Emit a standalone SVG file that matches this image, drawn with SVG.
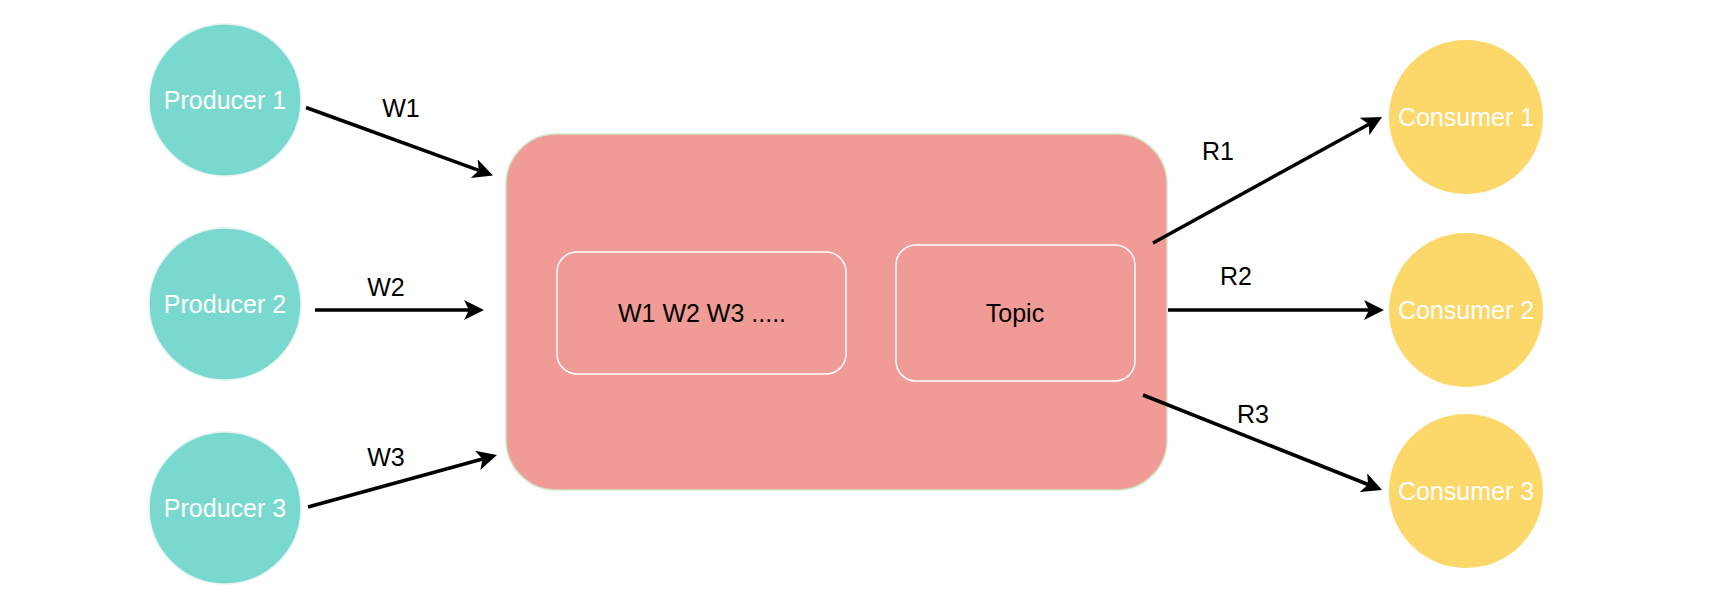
<svg xmlns="http://www.w3.org/2000/svg" width="1720" height="614" viewBox="0 0 1720 614">
<style>
.prod{fill:#7AD9CF;stroke:#E3F4F2;stroke-width:1.5}
.cons{fill:#FCD76A;stroke:none}
.lbl{font-family:"Liberation Sans",Arial,sans-serif;font-size:25px;text-anchor:middle}
.wt{fill:#ffffff}
.bk{fill:#000000}
.edge{stroke:#000;stroke-width:3.5;fill:none}
</style>
<defs>
<marker id="arr" markerUnits="userSpaceOnUse" markerWidth="22" markerHeight="22" refX="5" refY="10" orient="auto" viewBox="0 0 22 22">
<path d="M0,0 L20,10 L0,20 L5,10 z" fill="#000"/>
</marker>
</defs>
<rect width="1720" height="614" fill="#fff"/>
<g id="broker">
<rect x="506" y="134" width="661" height="356" rx="50" ry="50" fill="#F09B95" stroke="#CFE8C9" stroke-width="1.5"/>
</g>
<g id="queue">
<rect x="557" y="252" width="289" height="122" rx="20" ry="20" fill="#F09B95" stroke="#fff" stroke-width="1.5"/>
<text class="lbl bk" x="702" y="322">W1 W2 W3 .....</text>
</g>
<g id="topic">
<rect x="896" y="245" width="239" height="136" rx="20" ry="20" fill="#F09B95" stroke="#fff" stroke-width="1.5"/>
<text class="lbl bk" x="1015" y="322">Topic</text>
</g>
<g id="producer1"><circle class="prod" cx="225" cy="100" r="76"/><text class="lbl wt" x="225" y="109">Producer 1</text></g>
<g id="producer2"><circle class="prod" cx="225" cy="304" r="76"/><text class="lbl wt" x="225" y="313">Producer 2</text></g>
<g id="producer3"><circle class="prod" cx="225" cy="508" r="76"/><text class="lbl wt" x="225" y="517">Producer 3</text></g>
<g id="consumer1"><circle class="cons" cx="1466" cy="117" r="77"/><text class="lbl wt" x="1466" y="126">Consumer 1</text></g>
<g id="consumer2"><circle class="cons" cx="1466" cy="310" r="77"/><text class="lbl wt" x="1466" y="319">Consumer 2</text></g>
<g id="consumer3"><circle class="cons" cx="1466" cy="491" r="77"/><text class="lbl wt" x="1466" y="500">Consumer 3</text></g>
<g id="connectors">
<path class="edge" d="M306,107.5 L478.9,170.4" marker-end="url(#arr)"/>
<path class="edge" d="M315,310 L469,310" marker-end="url(#arr)"/>
<path class="edge" d="M308,507 L482.5,459" marker-end="url(#arr)"/>
<path class="edge" d="M1153,243 L1368.9,124.2" marker-end="url(#arr)"/>
<path class="edge" d="M1168,310 L1369,310" marker-end="url(#arr)"/>
<path class="edge" d="M1143,395 L1368.1,484.5" marker-end="url(#arr)"/>
<text class="lbl bk" x="401" y="117">W1</text>
<text class="lbl bk" x="386" y="296">W2</text>
<text class="lbl bk" x="386" y="466">W3</text>
<text class="lbl bk" x="1218" y="160">R1</text>
<text class="lbl bk" x="1236" y="285">R2</text>
<text class="lbl bk" x="1253" y="423">R3</text>
</g>
</svg>
